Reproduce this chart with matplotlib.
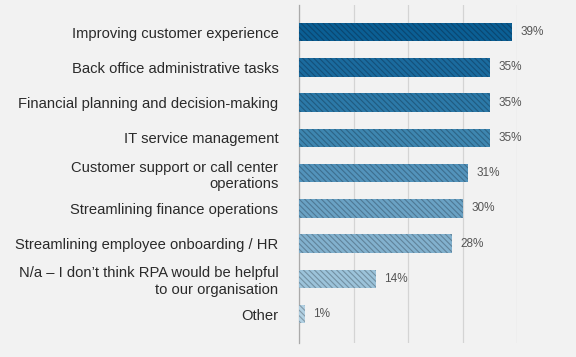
import numpy as np
import matplotlib.pyplot as plt

plt.rcParams['font.family'] = ['Liberation Sans', 'DejaVu Sans']
plt.rcParams['hatch.linewidth'] = 0.8

categories = [
    "Improving customer experience",
    "Back office administrative tasks",
    "Financial planning and decision-making",
    "IT service management",
    "Customer support or call center\noperations",
    "Streamlining finance operations",
    "Streamlining employee onboarding / HR",
    "N/a \u2013 I don\u2019t think RPA would be helpful\nto our organisation",
    "Other",
]
values = [39, 35, 35, 35, 31, 30, 28, 14, 1]
colors = ["#0b5f94", "#1b6b9e", "#2c79a8", "#3e86b0", "#5393bb",
          "#6aa2c4", "#82b1ce", "#9cc3da", "#b2d1e3"]
hatch_colors = ["#0a4670", "#14507a", "#205b80", "#2d6486", "#3d6e8e",
                "#4e7894", "#60839a", "#7290a2", "#8399a8"]

fig = plt.figure(figsize=(5.76, 3.57), dpi=100)
fig.patch.set_facecolor("#f2f2f2")
ax = fig.add_axes([0.5196, 0.039, 0.3785, 0.947])
ax.set_facecolor("#f2f2f2")

y = np.arange(len(categories))
bars = ax.barh(y, values, height=0.52, color=colors, edgecolor=hatch_colors,
               linewidth=0, hatch="\\\\\\\\\\\\", zorder=3)

for yi, v in zip(y, values):
    ax.text(v + 1.6, yi, f"{v}%", va="center", ha="left", fontsize=8.5,
            color="#555555")

ax.set_xlim(0, 40)
ax.set_ylim(len(categories) - 0.18, -0.77)
ax.set_xticks([0, 10, 20, 30, 40])
ax.xaxis.grid(True, color="#d4d4d4", linewidth=0.9, zorder=0)
ax.tick_params(axis="x", length=0, labelbottom=False)
ax.tick_params(axis="y", length=0, pad=15)
ax.set_yticks(y)
ax.set_yticklabels(categories, fontsize=10.6, color="#2a2a2a", linespacing=1.2)
for s in ["top", "right", "bottom"]:
    ax.spines[s].set_visible(False)
ax.spines["left"].set_color("#aaaaaa")
ax.spines["left"].set_linewidth(0.9)

fig.savefig("out.png", dpi=100, facecolor=fig.get_facecolor())
